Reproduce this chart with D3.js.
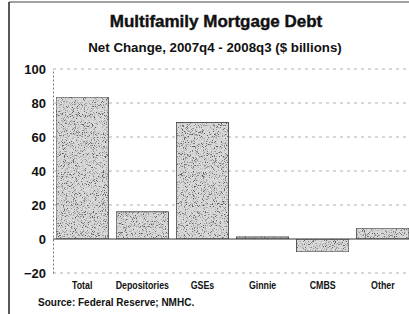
<!DOCTYPE html>
<html><head><meta charset="utf-8">
<script src="https://cdn.jsdelivr.net/npm/d3@7"></script>
<style>body{margin:0;background:#fff}svg{display:block;font-family:"Liberation Sans",Arial,sans-serif}</style>
</head><body>
<script>
const categories = ["Total","Depositories","GSEs","Ginnie","CMBS","Other"];
const values = [83.5, 16, 68.5, 1.2, -7.6, 6.4];
const yTicks = [-20, 0, 20, 40, 60, 80, 100];

const W = 409, H = 314;
const svg = d3.select("body").append("svg").attr("width", W).attr("height", H);

const defs = svg.append("defs");
const f = defs.append("filter").attr("id","grain").attr("x",0).attr("y",0).attr("width",1).attr("height",1)
  .attr("color-interpolation-filters","sRGB");
f.append("feTurbulence").attr("type","fractalNoise").attr("baseFrequency",1.1).attr("numOctaves",2).attr("seed",5).attr("result","n");
f.append("feColorMatrix").attr("in","n").attr("type","matrix")
  .attr("values","0 0 0 0 0.35  0 0 0 0 0.35  0 0 0 0 0.35  5 0 0 0 -2.75").attr("result","dots");
f.append("feComposite").attr("in","dots").attr("in2","SourceGraphic").attr("operator","in").attr("result","d2");
f.append("feMerge").call(m=>{m.append("feMergeNode").attr("in","SourceGraphic");m.append("feMergeNode").attr("in","d2");});

// frame
svg.append("line").attr("x1",9).attr("x2",409).attr("y1",2).attr("y2",2).attr("stroke","#444").attr("stroke-width",1.2);
svg.append("line").attr("x1",9).attr("x2",9).attr("y1",2).attr("y2",314).attr("stroke","#222").attr("stroke-width",1.5);

svg.append("text").attr("x",216).attr("y",27).attr("text-anchor","middle")
  .attr("font-size",17).attr("font-weight","bold").attr("fill","#111").attr("stroke","#111").attr("stroke-width",0.4)
  .text("Multifamily Mortgage Debt");
svg.append("text").attr("x",215).attr("y",52).attr("text-anchor","middle")
  .attr("font-size",13.3).attr("font-weight","bold").attr("fill","#111").text("Net Change, 2007q4 - 2008q3 ($ billions)");

const x = d3.scaleBand().domain(categories).range([53, 412]).paddingInner(0.13).paddingOuter(0.05);
const y = d3.scaleLinear().domain([-20, 100]).range([273, 69]);

// gridlines
svg.append("g").selectAll("line").data(yTicks.filter(t=>t!==0)).join("line")
  .attr("x1",53).attr("x2",409).attr("y1",d=>y(d)).attr("y2",d=>y(d))
  .attr("stroke","#999").attr("stroke-width",0.8).attr("stroke-dasharray","3,4");

// y axis
const ya = svg.append("g").attr("transform","translate(53,0)")
  .call(d3.axisLeft(y).tickValues(yTicks).tickSize(0).tickPadding(7));
ya.select(".domain").attr("stroke","#777").attr("stroke-dasharray","2,2");
ya.selectAll("text").attr("font-size",13).attr("font-weight","bold").attr("fill","#111")
  .attr("font-family","Liberation Sans, Arial, sans-serif");

// bars
svg.append("g").selectAll("rect").data(categories).join("rect")
  .attr("x",d=>x(d)).attr("width",x.bandwidth())
  .attr("y",(d,i)=>y(Math.max(0,values[i])))
  .attr("height",(d,i)=>Math.abs(y(values[i])-y(0)))
  .attr("fill","#d8d8d8").attr("stroke","#333").attr("stroke-width",0.8)
  .attr("filter","url(#grain)");

// zero line
svg.append("line").attr("x1",53).attr("x2",409).attr("y1",y(0)).attr("y2",y(0))
  .attr("stroke","#333").attr("stroke-width",1);

// x labels (condensed)
svg.append("g").selectAll("text").data(categories).join("text")
  .attr("transform",d=>`translate(${x(d)+x.bandwidth()/2},289) scale(0.8,1)`)
  .attr("text-anchor","middle")
  .attr("font-size",11).attr("font-weight","bold").attr("fill","#111").text(d=>d);

svg.append("text").attr("x",38).attr("y",306).attr("font-size",10).attr("font-weight","bold")
  .attr("fill","#111").text("Source: Federal Reserve; NMHC.");
</script>
</body></html>
